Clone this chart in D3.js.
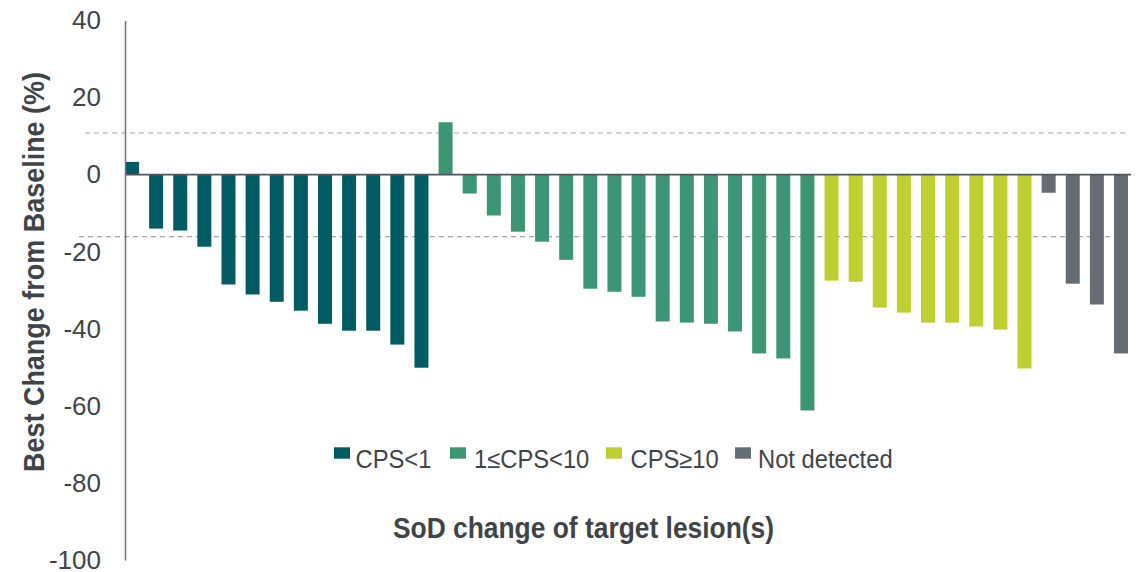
<!DOCTYPE html>
<html>
<head>
<meta charset="utf-8">
<script src="https://cdn.jsdelivr.net/npm/d3@7"></script>
<style>
  body { margin: 0; background: #fff; }
  svg { display: block; font-family: "Liberation Sans", Arial, sans-serif; }
</style>
</head>
<body>
<svg id="chart" width="1147" height="572"></svg>
<script>
// groups, in plot order
var groups = ['CPS<1', '1\u2264CPS<10', 'CPS\u226510', 'Not detected'];
var groupColors = ['#005b62', '#3c9673', '#bfcf32', '#656d74'];

// best % change per patient
var cpsLow = [3.3, -14.0, -14.5, -18.7, -28.5, -31.1, -33.0, -35.3, -38.7, -40.5, -40.5, -44.1, -50.1];
var cpsMid = [13.6, -4.9, -10.6, -14.8, -17.4, -22.1, -29.6, -30.4, -31.7, -38.1, -38.4, -38.7, -40.7, -46.4, -47.7, -61.2];
var cpsHigh = [-27.5, -27.8, -34.5, -35.8, -38.4, -38.4, -39.4, -40.2, -50.3];
var notDetected = [-4.7, -28.3, -33.7, -46.4];

var yTicks = [40, 20, 0, -20, -40, -60, -80, -100];
var refLines = [10.8, -16.1];

var data = [];
[cpsLow, cpsMid, cpsHigh, notDetected].forEach(function (arr, g) {
    arr.forEach(function (v) {
        data.push({ idx: data.length, group: g, value: v });
    });
});

var svg = d3.select('#chart');
var textColor = '#3f4547';

var x = d3.scaleBand()
    .domain(data.map(function (d) { return d.idx; }))
    .range([125, 1128])
    .paddingInner(0.42)
    .paddingOuter(0);

var y = d3.scaleLinear()
    .domain([-100, 40])
    .range([560, 20.5]);

// reference lines (dashed)
svg.append('line')
    .attr('x1', 85).attr('x2', 1127)
    .attr('y1', y(refLines[0])).attr('y2', y(refLines[0]))
    .attr('stroke', '#a3a5a8').attr('stroke-width', 1.2)
    .attr('stroke-dasharray', '5,4');
svg.append('line')
    .attr('x1', 79).attr('x2', 1112)
    .attr('y1', y(refLines[1])).attr('y2', y(refLines[1]))
    .attr('stroke', '#a3a5a8').attr('stroke-width', 1.2)
    .attr('stroke-dasharray', '5,4');

// bars
svg.append('g').selectAll('rect')
    .data(data)
    .enter().append('rect')
    .attr('x', function (d) { return x(d.idx); })
    .attr('width', x.bandwidth())
    .attr('y', function (d) { return y(Math.max(0, d.value)); })
    .attr('height', function (d) { return Math.abs(y(d.value) - y(0)); })
    .attr('fill', function (d) { return groupColors[d.group]; });

// zero line
svg.append('line')
    .attr('x1', 125).attr('x2', 1131)
    .attr('y1', y(0)).attr('y2', y(0))
    .attr('stroke', '#50565a').attr('stroke-width', 1.6);

// y axis
var yAxis = svg.append('g')
    .attr('transform', 'translate(125,0)')
    .call(d3.axisLeft(y).tickValues(yTicks).tickSize(0).tickPadding(24)
        .tickFormat(function (d) { return String(d); }));
yAxis.select('.domain').attr('stroke', '#6d7175').attr('stroke-width', 1.5);
yAxis.selectAll('text')
    .attr('fill', textColor)
    .style('font-size', '26px')
    .style('font-family', '"Liberation Sans", Arial, sans-serif');

// axis titles (slightly condensed in the original)
svg.append('text')
    .attr('transform', 'translate(43.5,272) rotate(-90) scale(0.93,1)')
    .attr('text-anchor', 'middle')
    .attr('fill', textColor)
    .style('font-size', '29px')
    .style('font-weight', 'bold')
    .text('Best Change from  Baseline (%)');

svg.append('text')
    .attr('transform', 'translate(583.5,538.3) scale(0.91,1)')
    .attr('text-anchor', 'middle')
    .attr('fill', textColor)
    .style('font-size', '29px')
    .style('font-weight', 'bold')
    .text('SoD change of target lesion(s)');

// legend
var legendX = [334, 450, 606, 735];
var legendTextX = [355.5, 474, 630.5, 758];
var legend = svg.append('g').selectAll('g')
    .data(groups)
    .enter().append('g');
legend.append('rect')
    .attr('x', function (d, i) { return legendX[i]; })
    .attr('y', 447.3)
    .attr('width', 16).attr('height', 11.4)
    .attr('fill', function (d, i) { return groupColors[i]; });
legend.append('text')
    .attr('transform', function (d, i) { return 'translate(' + legendTextX[i] + ',467.7) scale(0.95,1)'; })
    .attr('fill', textColor)
    .style('font-size', '25px')
    .text(function (d) { return d; });
</script>
</body>
</html>
